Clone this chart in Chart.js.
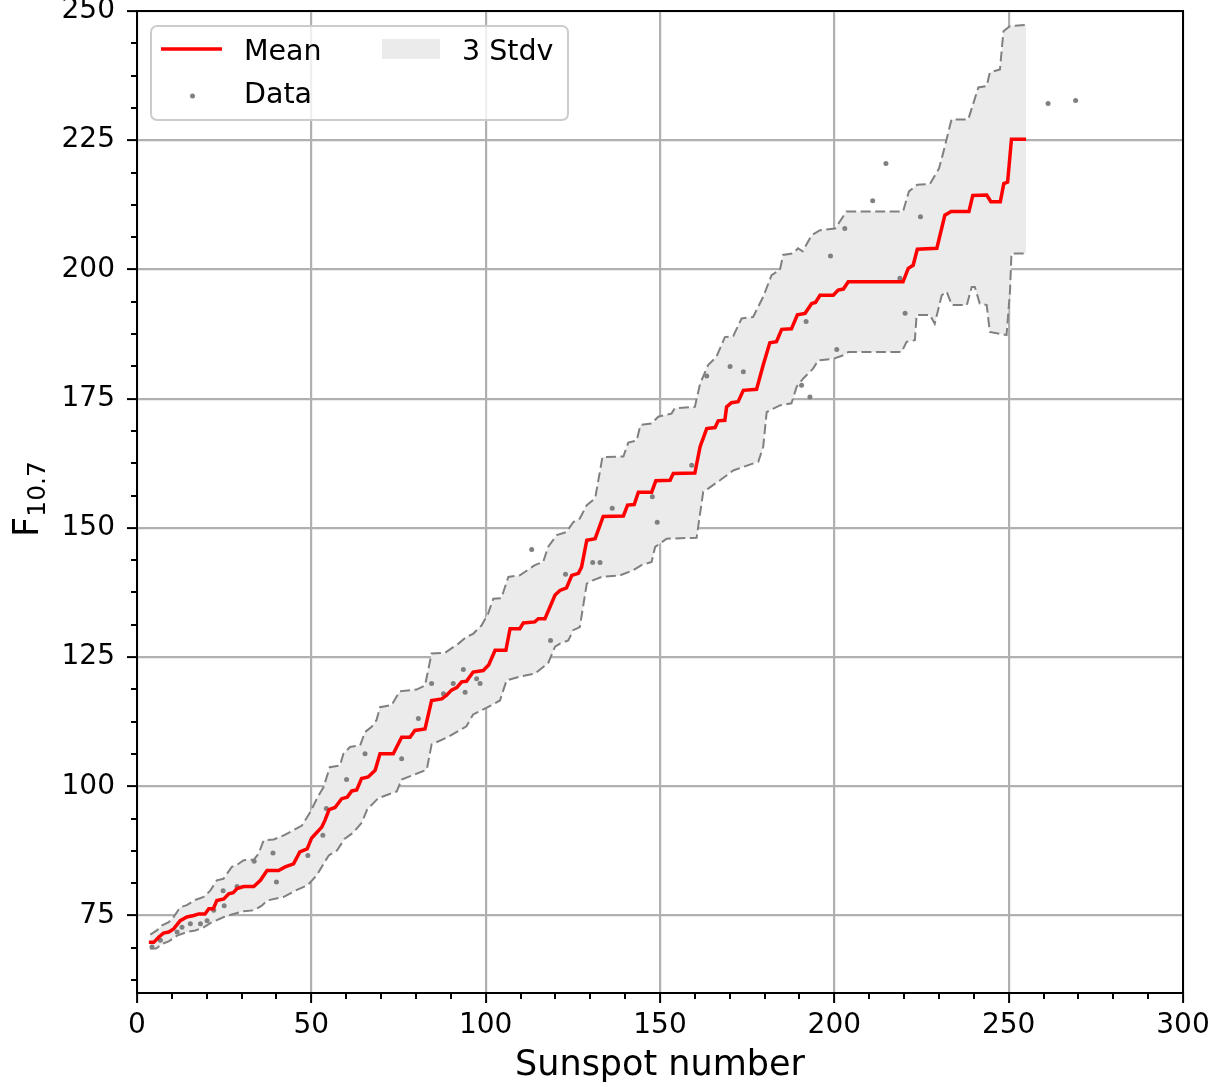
<!DOCTYPE html>
<html>
<head>
<meta charset="utf-8">
<title>F10.7 vs Sunspot number</title>
<script src="https://cdn.jsdelivr.net/npm/chart.js@4.4.1/dist/chart.umd.min.js"></script>
<style>
  html, body { margin: 0; padding: 0; background: #fff; }
  canvas { display: block; }
</style>
</head>
<body>
<canvas id="grafico" width="1227" height="1087"></canvas>
<script>
// Ticks de los ejes
const xTicks = [0, 50, 100, 150, 200, 250, 300];
const yTicks = [75, 100, 125, 150, 175, 200, 225, 250];

// Curva media (F10.7 promedio por número de manchas)
const mediaX = [3.4, 4.8, 6.2, 7.6, 9.1, 10.5, 12.4, 14.3, 16.3, 17.7, 19.5, 20.6, 21.9, 22.9, 24.9, 26.3, 27.6, 28.7, 30.6, 33.5,
  35.4, 37.3, 40.6, 42.5, 44.9, 46.7, 48.8, 50.1, 51.5, 53.0, 53.9, 55.1, 56.8, 58.7, 60.3, 61.6, 63.0, 64.4, 66.3, 68.3,
  69.7, 73.5, 75.9, 78.3, 79.7, 82.6, 84.5, 87.4, 88.8, 90.2, 91.7, 93.1, 94.5, 96.4, 99.3, 100.9, 102.7, 105.8, 107.0, 109.8,
  110.8, 114.1, 115.1, 117.0, 119.9, 121.3, 123.2, 124.7, 126.6, 127.5, 129.0, 131.4, 133.7, 139.5, 140.7, 142.6, 143.8, 147.6, 148.8, 152.9,
  153.8, 160.0, 161.5, 163.4, 165.8, 166.7, 168.6, 169.1, 170.5, 172.4, 173.9, 177.7, 179.6, 181.5, 183.4, 184.9, 187.7, 189.4, 191.6, 193.5,
  194.6, 195.9, 199.7, 201.1, 202.6, 204.0, 219.7, 221.2, 222.6, 223.8, 229.4, 231.7, 233.5, 238.6, 239.7, 243.7, 244.9, 247.6, 248.6, 249.7,
  250.8, 255.0];
const mediaY = [69.8, 69.8, 70.8, 71.6, 71.8, 72.4, 74.0, 74.7, 75.0, 75.3, 75.3, 76.3, 76.3, 77.9, 78.2, 79.2, 79.4, 80.2, 80.6, 80.6,
  81.8, 83.7, 83.7, 84.4, 85.0, 87.3, 87.9, 90.0, 91.0, 92.1, 93.4, 95.5, 95.9, 97.6, 97.9, 99.1, 99.3, 101.5, 101.8, 103.1,
  106.3, 106.3, 109.5, 109.5, 110.8, 111.1, 116.6, 116.9, 117.6, 118.6, 119.1, 120.2, 120.3, 122.1, 122.4, 123.5, 126.3, 126.3, 130.5, 130.5,
  131.6, 131.8, 132.4, 132.4, 137.0, 137.9, 138.4, 140.8, 141.2, 142.4, 147.6, 147.9, 152.2, 152.3, 154.4, 154.5, 156.9, 156.9, 159.1, 159.2,
  160.5, 160.6, 165.7, 169.2, 169.4, 170.7, 170.8, 173.4, 174.2, 174.4, 176.6, 176.8, 181.5, 185.8, 186.0, 188.4, 188.5, 191.2, 191.5, 193.4,
  193.6, 195.0, 195.0, 196.0, 196.2, 197.6, 197.6, 200.2, 200.8, 203.9, 204.1, 210.5, 211.2, 211.2, 214.3, 214.4, 213.1, 213.1, 216.6, 216.9,
  225.2, 225.2];

// Límite superior de la banda (3 desviaciones)
const superiorX = [3.8, 5.7, 7.2, 9.1, 10.5, 12.4, 14.3, 16.7, 19.1, 21.0, 22.9, 24.8, 27.2, 28.7, 30.6, 33.5, 34.9, 36.3, 39.2, 42.1,
  44.9, 47.3, 49.7, 51.8, 53.5, 55.3, 58.2, 59.2, 61.1, 64.0, 65.4, 67.3, 68.7, 69.7, 73.0, 75.4, 80.2, 82.6, 84.5, 88.3,
  92.2, 94.5, 96.4, 98.8, 100.7, 102.2, 104.5, 106.5, 109.8, 114.1, 116.5, 117.9, 120.4, 123.2, 125.1, 127.0, 129.0, 131.4, 133.5, 139.5,
  140.9, 143.3, 144.4, 147.6, 149.5, 153.3, 154.2, 160.0, 161.5, 163.8, 166.2, 168.6, 171.0, 173.4, 176.7, 179.6, 182.0, 184.4, 185.3, 188.2,
  189.6, 190.9, 193.5, 195.9, 200.2, 203.5, 219.7, 221.4, 223.8, 227.4, 230.0, 231.2, 232.2, 233.6, 238.4, 241.3, 243.7, 244.6, 247.5, 248.5,
  250.4, 255.0];
const superiorY = [71.3, 72.1, 73.1, 73.7, 74.7, 76.6, 77.0, 78.0, 78.6, 79.8, 81.8, 82.1, 84.4, 84.8, 85.7, 85.8, 87.0, 89.5, 89.7, 90.5,
  91.5, 92.4, 95.0, 97.9, 99.8, 103.7, 104.0, 106.3, 107.6, 107.9, 110.5, 111.5, 112.8, 115.3, 115.7, 118.4, 118.7, 119.5, 125.7, 125.8,
  127.6, 128.9, 129.5, 131.1, 133.4, 136.3, 136.4, 140.5, 140.8, 142.8, 143.4, 146.3, 148.6, 149.2, 151.1, 151.8, 154.4, 155.7, 163.7, 163.8,
  166.5, 166.9, 169.9, 170.2, 171.5, 172.1, 173.1, 173.4, 177.9, 181.5, 183.1, 186.9, 187.1, 190.5, 190.8, 194.7, 198.9, 199.9, 202.8, 203.1,
  204.1, 203.5, 206.6, 207.6, 207.9, 211.2, 211.2, 215.1, 216.4, 216.5, 219.5, 222.5, 225.2, 229.0, 229.0, 235.2, 235.5, 238.1, 238.7, 246.1,
  247.1, 247.3];

// Límite inferior de la banda
const inferiorX = [3.8, 5.5, 7.2, 9.1, 11.5, 14.3, 16.7, 19.1, 21.5, 24.9, 27.7, 30.6, 33.5, 35.8, 37.3, 42.1, 45.4, 48.8, 50.2, 51.6,
  53.5, 55.0, 57.4, 59.5, 62.0, 64.5, 66.0, 69.2, 74.5, 75.9, 83.1, 84.5, 88.8, 94.5, 96.4, 101.7, 104.1, 106.0, 109.8, 114.1,
  117.9, 119.9, 121.3, 123.7, 125.1, 127.0, 129.0, 130.9, 133.2, 138.5, 142.3, 144.7, 147.6, 148.6, 151.9, 160.5, 162.4, 163.8, 167.2, 171.0,
  173.9, 178.2, 179.6, 180.6, 184.4, 187.7, 189.2, 191.1, 193.9, 195.4, 199.7, 202.6, 204.0, 219.3, 220.7, 223.1, 223.6, 227.4, 228.8, 230.8,
  232.2, 233.7, 238.0, 239.4, 240.3, 241.7, 243.7, 244.6, 249.4, 250.4, 250.8, 255.0];
const inferiorY = [68.6, 68.6, 69.5, 70.0, 71.1, 71.8, 72.1, 72.7, 73.7, 74.7, 75.3, 75.8, 76.0, 76.9, 77.9, 78.6, 79.8, 80.8, 81.8, 82.8,
  85.0, 86.6, 87.6, 89.8, 91.0, 93.0, 95.5, 97.7, 99.0, 101.3, 103.2, 108.1, 109.4, 111.6, 113.9, 115.7, 116.6, 120.5, 121.2, 121.8,
  123.8, 127.0, 127.6, 128.2, 130.2, 130.8, 139.2, 139.9, 140.5, 140.8, 141.8, 142.8, 143.4, 146.3, 147.9, 148.1, 157.0, 157.6, 159.2, 161.1,
  161.8, 162.8, 165.7, 172.4, 173.7, 174.1, 177.3, 178.9, 180.8, 182.4, 182.7, 183.4, 184.0, 184.0, 186.0, 186.3, 191.2, 191.2, 189.5, 195.0,
  195.7, 193.1, 193.1, 196.6, 196.6, 193.4, 193.1, 187.9, 187.3, 196.0, 203.1, 203.1];

// Observaciones individuales
const datosX = [4.3, 6.7, 11.5, 12.9, 15.3, 18.2, 20.1, 22.0, 24.7, 25.0, 28.7, 33.6, 39.0, 40.0, 49.0, 53.3, 54.3, 60.1, 65.4, 75.9,
  80.7, 84.5, 87.9, 90.7, 93.6, 94.1, 97.4, 98.4, 113.2, 118.6, 122.9, 130.7, 132.8, 136.3, 147.8, 149.2, 159.1, 163.4, 170.1, 173.9,
  190.6, 193.0, 191.9, 198.9, 200.7, 203.0, 211.0, 214.8, 218.8, 220.3, 224.7, 261.3, 269.2];
const datosY = [68.9, 70.2, 71.8, 72.7, 73.4, 73.4, 74.0, 76.0, 79.8, 76.9, 80.6, 85.5, 87.1, 81.5, 86.6, 90.5, 95.7, 101.3, 106.3, 105.3,
  113.1, 119.9, 117.9, 119.9, 122.6, 118.2, 120.8, 119.9, 145.8, 128.2, 141.0, 143.3, 143.3, 153.8, 156.0, 151.1, 162.1, 179.4, 181.2, 180.2,
  177.6, 175.3, 189.9, 202.6, 184.5, 207.9, 213.3, 220.5, 198.3, 191.5, 210.2, 232.1, 232.7];

const aPuntos = (xs, ys) => xs.map((x, i) => ({x: x, y: ys[i]}));

const fuente = 'DejaVu Sans';
const gris = '#808080';
const grisBanda = '#ebebeb';
Chart.defaults.font.family = fuente;

// Marco, ticks menores, etiqueta del eje Y y leyenda
const decoraciones = {
  id: 'decoraciones',
  afterDatasetsDraw(chart) {
    const c = chart.ctx;
    c.save();
    // leyenda
    c.fillStyle = 'rgba(255,255,255,0.8)';
    c.strokeStyle = '#cccccc';
    c.lineWidth = 2;
    c.beginPath();
    c.roundRect(151, 26, 417, 94, 6);
    c.fill();
    c.stroke();

    c.strokeStyle = 'red';
    c.lineWidth = 3.5;
    c.beginPath();
    c.moveTo(161, 49);
    c.lineTo(222, 49);
    c.stroke();

    c.fillStyle = grisBanda;
    c.fillRect(382, 39, 58, 20);

    c.fillStyle = gris;
    c.beginPath();
    c.arc(192.5, 96, 2.5, 0, Math.PI * 2);
    c.fill();

    c.fillStyle = '#000';
    c.font = '28.5px ' + fuente;
    c.textBaseline = 'alphabetic';
    c.textAlign = 'left';
    c.fillText('Mean', 244, 60);
    c.fillText('3 Stdv', 462, 60);
    c.fillText('Data', 244, 103);
    c.restore();
  },
  afterDraw(chart) {
    const c = chart.ctx;
    const area = chart.chartArea;
    const sx = chart.scales.x;
    const sy = chart.scales.y;
    c.save();
    c.strokeStyle = '#000';
    c.lineWidth = 2;
    c.beginPath();
    for (let v = 10; v < 300; v += 10) {
      if (v % 50 === 0) continue;
      const px = Math.round(sx.getPixelForValue(v));
      c.moveTo(px, area.bottom);
      c.lineTo(px, area.bottom + 6);
    }
    for (let v = 62.5; v < 250; v += 6.25) {
      if (v % 25 === 0) continue;
      const py = Math.round(sy.getPixelForValue(v));
      c.moveTo(area.left, py);
      c.lineTo(area.left - 6, py);
    }
    c.stroke();

    // marco completo
    c.strokeRect(area.left, area.top, area.right - area.left, area.bottom - area.top);

    // etiqueta F10.7 con subíndice
    c.translate(38, 499);
    c.rotate(-Math.PI / 2);
    c.fillStyle = '#000';
    c.textBaseline = 'alphabetic';
    c.textAlign = 'left';
    c.font = '35px ' + fuente;
    const anchoF = c.measureText('F').width;
    c.font = '25px ' + fuente;
    const anchoSub = c.measureText('10.7').width;
    const inicio = -(anchoF + anchoSub) / 2;
    c.font = '35px ' + fuente;
    c.fillText('F', inicio, 0);
    c.font = '25px ' + fuente;
    c.fillText('10.7', inicio + anchoF, 7);
    c.restore();
  }
};

new Chart(document.getElementById('grafico'), {
  type: 'scatter',
  data: {
    datasets: [
      {
        label: 'Mean',
        data: aPuntos(mediaX, mediaY),
        showLine: true,
        borderColor: 'red',
        borderWidth: 3.5,
        pointRadius: 0,
        fill: false
      },
      {
        label: 'Data',
        data: aPuntos(datosX, datosY),
        showLine: false,
        pointRadius: 2.5,
        pointBorderWidth: 0,
        pointBackgroundColor: gris,
        backgroundColor: gris
      },
      {
        label: '3 Stdv',
        data: aPuntos(superiorX, superiorY),
        showLine: true,
        borderColor: gris,
        borderWidth: 2,
        borderDash: [10, 4.5],
        pointRadius: 0,
        backgroundColor: grisBanda,
        fill: '+1'
      },
      {
        label: 'inferior',
        data: aPuntos(inferiorX, inferiorY),
        showLine: true,
        borderColor: gris,
        borderWidth: 2,
        borderDash: [10, 4.5],
        pointRadius: 0,
        fill: false
      }
    ]
  },
  options: {
    responsive: false,
    animation: false,
    layout: { padding: { top: 11, right: 44, left: 0, bottom: 0 } },
    plugins: {
      legend: { display: false },
      tooltip: { enabled: false },
      filler: { drawTime: 'beforeDatasetsDraw' }
    },
    scales: {
      x: {
        type: 'linear',
        min: 0,
        max: 300,
        afterFit: (scale) => {
          scale.height = 94;
          scale.paddingLeft = 0;
          scale.paddingRight = 0;
        },
        afterBuildTicks: (scale) => { scale.ticks = xTicks.map(v => ({value: v})); },
        ticks: { color: '#000', font: { size: 28 }, padding: 6, maxRotation: 0 },
        grid: { color: '#b0b0b0', lineWidth: 2.2, drawTicks: true, tickLength: 10, tickColor: '#000', tickWidth: 2 },
        border: { display: false },
        title: { display: true, text: 'Sunspot number', color: '#000', font: { size: 35 }, padding: { top: 0, bottom: 0 } }
      },
      y: {
        type: 'linear',
        min: 60,
        max: 250,
        afterFit: (scale) => {
          scale.width = 137;
          scale.paddingTop = 0;
          scale.paddingBottom = 0;
        },
        afterBuildTicks: (scale) => { scale.ticks = yTicks.map(v => ({value: v})); },
        ticks: { color: '#000', font: { size: 28 }, padding: 12 },
        grid: { color: '#b0b0b0', lineWidth: 2.2, drawTicks: true, tickLength: 10, tickColor: '#000', tickWidth: 2 },
        border: { display: false }
      }
    }
  },
  plugins: [decoraciones]
});
</script>
</body>
</html>
